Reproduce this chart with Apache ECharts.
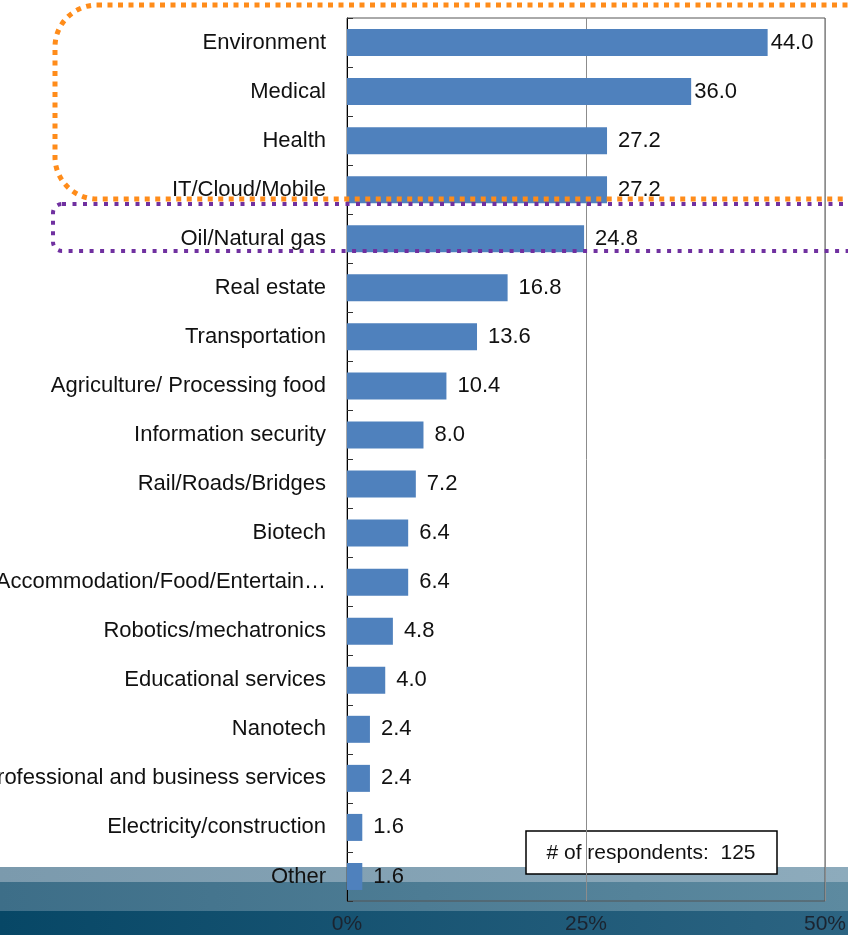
<!DOCTYPE html>
<html>
<head>
<meta charset="utf-8">
<script src="https://cdn.jsdelivr.net/npm/echarts@6/dist/echarts.min.js"></script>
<style>
  html, body { margin: 0; padding: 0; background: #fff; }
  #chart { width: 848px; height: 935px; }
</style>
</head>
<body>
<div id="chart"></div>
<script>
    // categories top to bottom
    var categories = [
        'Environment', 'Medical', 'Health', 'IT/Cloud/Mobile', 'Oil/Natural gas',
        'Real estate', 'Transportation', 'Agriculture/ Processing food',
        'Information security', 'Rail/Roads/Bridges', 'Biotech',
        'Accommodation/Food/Entertain\u2026', 'Robotics/mechatronics',
        'Educational services', 'Nanotech', 'Professional and business services',
        'Electricity/construction', 'Other'
    ];
    var values = [44.0, 36.0, 27.2, 27.2, 24.8, 16.8, 13.6, 10.4, 8.0, 7.2, 6.4, 6.4, 4.8, 4.0, 2.4, 2.4, 1.6, 1.6];
    var xTicks = [0, 25, 50];
    var respondents = 125;

    var chart = echarts.init(document.getElementById('chart'));

    // bar labels: first two sit close to the bar end
    var barData = values.map(function (v, i) {
        return {
            value: v,
            label: { distance: i < 2 ? 3 : 11 }
        };
    });

    var font = 'Liberation Sans, Arial, sans-serif';

    var option = {
        animation: false,
        backgroundColor: '#ffffff',
        grid: {
            left: 347,
            right: 23,
            top: 18,
            bottom: 34,
            containLabel: false,
            outerBoundsMode: 'none',
            show: true,
            borderColor: '#555',
            borderWidth: 1
        },
        xAxis: {
            type: 'value',
            min: xTicks[0],
            max: xTicks[xTicks.length - 1],
            interval: 25,
            axisLine: { show: false },
            axisTick: { show: false },
            axisLabel: {
                formatter: '{value}%',
                color: '#1b2430',
                fontSize: 21,
                fontFamily: font,
                margin: 13
            },
            splitLine: {
                show: true,
                lineStyle: { color: '#8c8c8c', width: 1 }
            }
        },
        yAxis: {
            type: 'category',
            inverse: true,
            data: categories,
            axisLine: { show: true, lineStyle: { color: '#000', width: 1 } },
            axisTick: {
                show: true,
                inside: true,
                length: 6,
                lineStyle: { color: '#333' }
            },
            axisLabel: {
                color: '#111',
                fontSize: 22,
                fontFamily: font,
                margin: 21
            }
        },
        series: [{
            type: 'bar',
            data: barData,
            barWidth: 27,
            itemStyle: { color: '#4F81BD' },
            label: {
                show: true,
                position: 'right',
                formatter: function (p) { return p.value.toFixed(1); },
                color: '#111',
                fontSize: 22,
                fontFamily: font
            },
            z: 3
        }],
        graphic: [
            // background bands at the bottom
            {
                type: 'rect', z: -10, silent: true,
                shape: { x: 0, y: 867, width: 848, height: 15 },
                style: { fill: new echarts.graphic.LinearGradient(0, 0, 1, 0, [
                    { offset: 0, color: '#7b9aad' }, { offset: 1, color: '#8dabbc' }
                ]) }
            },
            {
                type: 'rect', z: -10, silent: true,
                shape: { x: 0, y: 882, width: 848, height: 29 },
                style: { fill: new echarts.graphic.LinearGradient(0, 0, 1, 0, [
                    { offset: 0, color: '#3d6e88' }, { offset: 1, color: '#5d8aa0' }
                ]) }
            },
            {
                type: 'rect', z: -10, silent: true,
                shape: { x: 0, y: 911, width: 848, height: 24 },
                style: { fill: new echarts.graphic.LinearGradient(0, 0, 1, 0, [
                    { offset: 0, color: '#074766' }, { offset: 1, color: '#2c6482' }
                ]) }
            },
            // orange dotted frame
            {
                type: 'rect', z: 100, silent: true,
                shape: { x: 55, y: 5, width: 840, height: 194, r: 42 },
                style: {
                    fill: 'none',
                    stroke: '#FF8C1A',
                    lineWidth: 5,
                    lineDash: [5, 5.5]
                }
            },
            // purple dotted frame
            {
                type: 'rect', z: 100, silent: true,
                shape: { x: 53, y: 204, width: 840, height: 47, r: 9 },
                style: {
                    fill: 'none',
                    stroke: '#7030A0',
                    lineWidth: 4,
                    lineDash: [4, 6.5]
                }
            },
            // respondents box
            {
                type: 'group', z: 100,
                children: [
                    {
                        type: 'rect',
                        shape: { x: 526, y: 831, width: 251, height: 43 },
                        style: { fill: '#fff', stroke: '#000', lineWidth: 1.5 }
                    },
                    {
                        type: 'text',
                        style: {
                            x: 651, y: 853,
                            text: '# of respondents:  ' + respondents,
                            align: 'center',
                            verticalAlign: 'middle',
                            fill: '#111',
                            fontSize: 21,
                            fontFamily: font
                        }
                    }
                ]
            }
        ]
    };

    chart.setOption(option);
</script>
</body>
</html>
